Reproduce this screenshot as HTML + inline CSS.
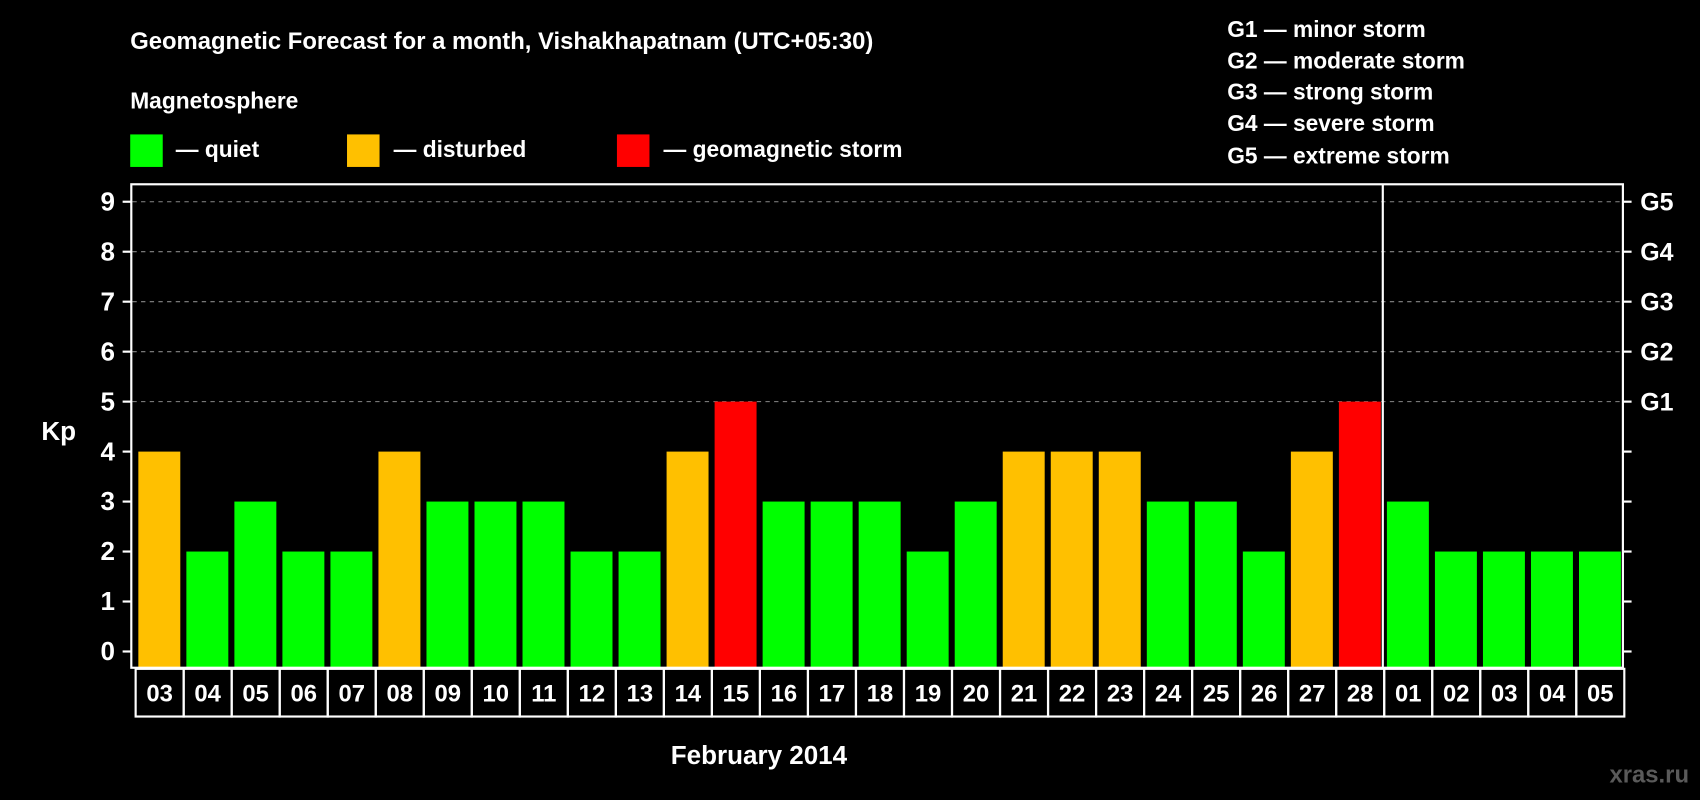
<!DOCTYPE html>
<html><head><meta charset="utf-8"><style>
html,body{margin:0;padding:0;background:#000;}
svg{display:block;}
text{font-family:"Liberation Sans",sans-serif;font-weight:bold;fill:#fff;}
</style></head><body>
<svg id="chart" width="1700" height="800" viewBox="0 0 1568 738" xmlns="http://www.w3.org/2000/svg">
<rect x="0" y="0" width="1568" height="738" fill="#000"/>
<text x="120" y="45" font-size="22">Geomagnetic Forecast for a month, Vishakhapatnam (UTC+05:30)</text>
<text x="120" y="100" font-size="21">Magnetosphere</text>
<g><rect x="120" y="124" width="30" height="30" fill="#00ff00"/><text x="162" y="145" font-size="21">— quiet</text></g>
<g><rect x="320" y="124" width="30" height="30" fill="#ffc000"/><text x="363" y="145" font-size="21">— disturbed</text></g>
<g><rect x="569" y="124" width="30" height="30" fill="#ff0000"/><text x="612" y="145" font-size="21">— geomagnetic storm</text></g>
<g font-size="21">
<text x="1132" y="34">G1 — minor storm</text>
<text x="1132" y="63">G2 — moderate storm</text>
<text x="1132" y="92">G3 — strong storm</text>
<text x="1132" y="121">G4 — severe storm</text>
<text x="1132" y="151">G5 — extreme storm</text>
</g>
<g id="grid"></g>
<g id="bars"></g>
<rect x="121" y="170" width="1376" height="446" fill="none" stroke="#fff" stroke-width="2"/>
<line x1="1275.5" y1="170" x2="1275.5" y2="616" stroke="#fff" stroke-width="2"/>
<g id="axes"></g>
<g id="xlabels"></g>
<text x="38" y="406" font-size="24">Kp</text>
<text x="700" y="705" font-size="24" text-anchor="middle">February 2014</text>
<text x="1558" y="722" font-size="22" text-anchor="end" fill="#555" style="fill:#5a5a5a">xras.ru</text>
</svg>
<script>
const days = ["03","04","05","06","07","08","09","10","11","12","13","14","15","16","17","18","19","20","21","22","23","24","25","26","27","28","01","02","03","04","05"];
const kpValues = [4,2,3,2,2,4,3,3,3,2,2,4,5,3,3,3,2,3,4,4,4,3,3,2,4,5,3,2,2,2,2];
const yTicks = [0,1,2,3,4,5,6,7,8,9];
const gLabels = ["G1","G2","G3","G4","G5"];
const NS = "http://www.w3.org/2000/svg";
const x0 = 125, pitch = 44.3, barW = 38.7;
function y(v){ return 601 - v * 46.1; }
function xCell(i){ return x0 + i * pitch; }
function colorFor(v){ return v >= 5 ? "#ff0000" : (v >= 4 ? "#ffc000" : "#00ff00"); }
function mk(tag, attrs){ const e = document.createElementNS(NS, tag); for (const k in attrs) e.setAttribute(k, attrs[k]); return e; }
const grid = document.getElementById("grid"), axes = document.getElementById("axes"), bars = document.getElementById("bars"), xl = document.getElementById("xlabels");
yTicks.forEach(v => {
  if (v >= 5) {
    const g = mk("line", {x1:122, x2:1496, y1:y(v), y2:y(v), stroke:"#888", "stroke-width":1, "stroke-dasharray":"4,4"});
    
    
    grid.appendChild(g);
  }
  const t1 = mk("line", {x1:113, x2:121, y1:y(v), y2:y(v), stroke:"#fff", "stroke-width":2});
  
  
  axes.appendChild(t1);
  const t2 = mk("line", {x1:1497, x2:1505, y1:y(v), y2:y(v), stroke:"#fff", "stroke-width":2});
  
  
  axes.appendChild(t2);
  const lb = mk("text", {x:106, y:y(v)+8, "font-size":24, "text-anchor":"end"});
  lb.textContent = v;
  
  
  axes.appendChild(lb);
  if (v >= 5) {
    const gl = mk("text", {x:1513, y:y(v)+8, "font-size":23});
    gl.textContent = gLabels[v - 5];
    
    
    axes.appendChild(gl);
  }
});
kpValues.forEach((v, i) => {
  const r = mk("rect", {x:xCell(i)+2.5, y:y(v), width:barW, height:616 - y(v), fill:colorFor(v)});
  
  
  bars.appendChild(r);
});
days.forEach((d, i) => {
  const c = mk("rect", {x:xCell(i), y:617, width:pitch, height:44, fill:"none", stroke:"#fff", "stroke-width":2});
  
  
  xl.appendChild(c);
  const t = mk("text", {x:xCell(i)+pitch/2, y:647, "font-size":22, "text-anchor":"middle"});
  t.textContent = d;
  
  
  xl.appendChild(t);
});
</script>
</body></html>
